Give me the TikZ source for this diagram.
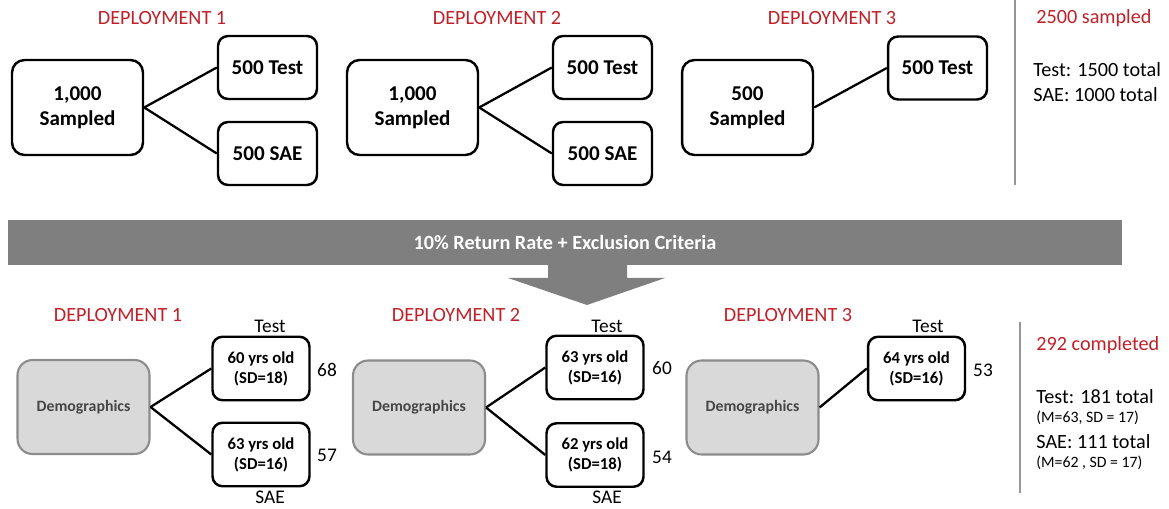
\documentclass[tikz,border=0pt]{standalone}
\usepackage{fontspec}
\setmainfont{Carlito}

\definecolor{deployred}{RGB}{192,32,40}
\definecolor{bandgray}{RGB}{127,127,127}
\definecolor{demofill}{RGB}{217,217,217}
\definecolor{demoline}{RGB}{140,140,140}
\definecolor{demotext}{RGB}{70,70,70}
\definecolor{sepgray}{RGB}{150,150,150}

\tikzstyle{sampbox}=[draw,line width=1.4pt,rounded corners=0.25cm,minimum width=2.62cm,minimum height=1.9cm,align=center,font=\fontsize{12}{14.5}\selectfont\bfseries]
\tikzstyle{splitbox}=[draw,line width=1.4pt,rounded corners=0.2cm,minimum width=1.98cm,minimum height=1.26cm,align=center,font=\fontsize{12}{14.5}\selectfont\bfseries]
\tikzstyle{demobox}=[draw=demoline,fill=demofill,line width=1.2pt,rounded corners=0.3cm,minimum width=2.64cm,minimum height=1.88cm,text=demotext,font=\fontsize{9}{11}\selectfont\bfseries]
\tikzstyle{agebox}=[draw,line width=1.4pt,rounded corners=0.2cm,minimum width=1.94cm,minimum height=1.27cm,align=center,font=\fontsize{9.5}{11.4}\selectfont\bfseries]
\tikzstyle{band}=[fill=bandgray,minimum width=22.28cm,minimum height=0.9cm,text=white,font=\fontsize{11.5}{14}\selectfont\bfseries]
\tikzstyle{link}=[draw,line width=1.3pt,-]
\tikzstyle{deploytitle}=[text=deployred,inner sep=0pt,font=\fontsize{11.5}{14}\selectfont]
\tikzstyle{tally}=[inner sep=0pt,font=\fontsize{11}{13}\selectfont]
\tikzstyle{sumtext}=[anchor=west,inner sep=0pt,font=\fontsize{11.5}{14}\selectfont]
\tikzstyle{subtext}=[anchor=west,inner sep=0pt,font=\fontsize{9}{11}\selectfont]
\newcommand{\pxunit}{0.02cm}

\begin{document}
\begin{tikzpicture}[x=\pxunit, y=-\pxunit]
    \useasboundingbox (0,0) rectangle (1169,509);
    % Top row: who was sampled in each deployment
    \foreach \x/\n in {162/1, 497/2, 832/3}
        \node[deploytitle] (toptitle\n) at (\x,18) {DEPLOYMENT \n};
    \foreach \pos/\name/\lbl in {{(77.5,107.5)/samp1/1,000\\Sampled}, {(412.5,107.5)/samp2/1,000\\Sampled}, {(747.5,107.5)/samp3/500\\Sampled}}
        \node[sampbox] (\name) at \pos {\lbl};
    \foreach \pos/\name/\lbl in {{(267.5,67.5)/test1/500 Test}, {(267.5,153.5)/sae1/500 SAE}, {(602.5,67.5)/test2/500 Test}, {(602.5,153.5)/sae2/500 SAE}, {(937.5,68)/test3/500 Test}}
        \node[splitbox] (\name) at \pos {\lbl};
    \foreach \source/\dest in {samp1/test1, samp1/sae1, samp2/test2, samp2/sae2, samp3/test3}
        \path[link] (\source.east) -- (\dest.west);

    % Totals on the right
    \draw[sepgray, line width=0.8pt] (1015,0) -- (1015,185);
    \node[sumtext, text=deployred] (sampled) at (1036,18) {2500 sampled};
    \node[sumtext] (testtot) at (1033,70) {Test: 1500 total};
    \node[sumtext] (saetot) at (1033,95) {SAE: 1000 total};

    % Return band and arrow
    \node[band] (band) at (565,242.5) {10\% Return Rate + Exclusion Criteria};
    \fill[bandgray] (548,265) -- (627,265) -- (627,278) -- (665,278) -- (587,305) -- (508,278) -- (548,278) -- cycle;

    % Bottom row: who completed
    \foreach \x/\n in {118/1, 456/2, 788/3}
        \node[deploytitle] (bottitle\n) at (\x,315) {DEPLOYMENT \n};
    \foreach \pos/\name in {{(83.5,407)/demo1}, {(419,407.5)/demo2}, {(752.5,407.5)/demo3}}
        \node[demobox] (\name) at \pos {Demographics};
    \foreach \pos/\name/\lbl in {{(261,368.5)/age1t/60 yrs old\\(SD=18)}, {(261,454.5)/age1s/63 yrs old\\(SD=16)}, {(595,367.5)/age2t/63 yrs old\\(SD=16)}, {(595,455)/age2s/62 yrs old\\(SD=18)}, {(916.5,368.5)/age3t/64 yrs old\\(SD=16)}}
        \node[agebox] (\name) at \pos {\lbl};
    \foreach \source/\dest in {demo1/age1t, demo1/age1s, demo2/age2t, demo2/age2s, demo3/age3t}
        \path[link] (\source.east) -- (\dest.west);
    \foreach \pos/\name/\lbl in {{(270,326)/grp1t/Test}, {(270,497)/grp1s/SAE}, {(607,326)/grp2t/Test}, {(607,497)/grp2s/SAE}, {(928,326)/grp3t/Test}, {(327,370)/n1t/68}, {(327,455)/n1s/57}, {(662,368)/n2t/60}, {(662,457)/n2s/54}, {(983,370)/n3t/53}}
        \node[tally] (\name) at \pos {\lbl};

    % Completed totals on the right
    \draw[sepgray, line width=0.8pt] (1020,322) -- (1020,493);
    \node[sumtext, text=deployred] (completed) at (1036,345) {292 completed};
    \node[sumtext] (testdone) at (1036,397) {Test: 181 total};
    \node[subtext] (testmean) at (1036,418) {(M=63, SD = 17)};
    \node[sumtext] (saedone) at (1036,442) {SAE: 111 total};
    \node[subtext] (saemean) at (1036,463) {(M=62 , SD = 17)};
\end{tikzpicture}
\end{document}
